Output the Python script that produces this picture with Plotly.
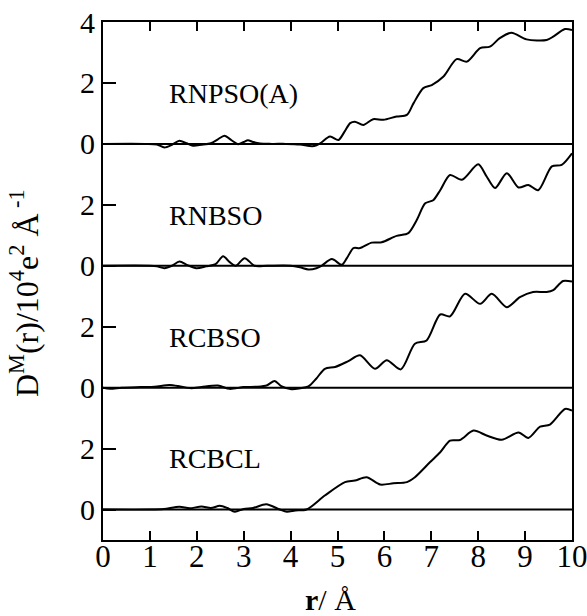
import plotly.graph_objects as go

# Panel data: r (Å) and D^M(r) values (units of 10^4 e^2 Å^-1), each panel relative to its own zero
labels = ["RNPSO(A)", "RNBSO", "RCBSO", "RCBCL"]

r_rnpso = [0, 0.9, 1.15, 1.31, 1.47, 1.63, 1.78, 1.92, 2.1, 2.3, 2.45, 2.59, 2.74, 2.88, 3.0, 3.09,
           3.2, 3.35, 3.6, 3.9, 4.2, 4.4, 4.5, 4.63, 4.84, 5.02, 5.15, 5.27, 5.37, 5.55, 5.76, 5.98,
           6.26, 6.48, 6.62, 6.83, 7.01, 7.26, 7.54, 7.76, 8.04, 8.25, 8.46, 8.71, 9.03, 9.46, 9.6,
           9.85, 10.0]
d_rnpso = [0, 0, -0.02, -0.12, -0.03, 0.1, 0.02, -0.06, -0.03, 0.02, 0.15, 0.27, 0.12, -0.01, 0.06,
           0.12, 0.06, 0.01, 0, 0, -0.02, -0.07, -0.07, 0.02, 0.24, 0.13, 0.4, 0.68, 0.73, 0.62, 0.81,
           0.79, 0.90, 0.95, 1.33, 1.83, 1.93, 2.21, 2.78, 2.70, 3.14, 3.19, 3.47, 3.65, 3.43, 3.41,
           3.52, 3.77, 3.74]

r_rnbso = [0, 1.0, 1.15, 1.31, 1.47, 1.63, 1.8, 1.99, 2.2, 2.4, 2.56, 2.7, 2.83, 3.02, 3.23, 3.5, 4.0,
           4.2, 4.38, 4.55, 4.66, 4.88, 5.09, 5.2, 5.34, 5.48, 5.73, 5.94, 6.26, 6.51, 6.69, 6.87, 7.04,
           7.19, 7.40, 7.65, 8.00, 8.18, 8.36, 8.61, 8.86, 9.07, 9.28, 9.57, 9.78, 10.0]
d_rnbso = [0, 0, -0.02, -0.08, 0, 0.14, 0.02, -0.08, -0.02, 0.05, 0.31, 0.12, 0, 0.25, 0, 0, 0,
           -0.05, -0.12, -0.08, 0, 0.22, 0.03, 0.25, 0.58, 0.58, 0.76, 0.77, 0.98, 1.07, 1.50, 2.05,
           2.15, 2.48, 2.98, 2.82, 3.33, 2.93, 2.55, 3.04, 2.57, 2.65, 2.48, 3.26, 3.31, 3.69]

r_rcbso = [0, 0.15, 0.4, 0.8, 1.1, 1.42, 1.65, 1.88, 2.1, 2.45, 2.7, 3.0, 3.3, 3.5, 3.66, 3.8, 4.02,
           4.2, 4.38, 4.55, 4.73, 4.95, 5.23, 5.48, 5.80, 6.05, 6.35, 6.65, 6.90, 7.19, 7.40, 7.72,
           8.04, 8.29, 8.61, 8.89, 9.17, 9.46, 9.6, 9.81, 10.0]
d_rcbso = [0, -0.04, 0, 0.02, 0.03, 0.09, 0.04, -0.02, 0.02, 0.07, -0.04, 0.02, 0.03, 0.08, 0.22,
           0.05, -0.05, -0.02, 0.04, 0.3, 0.62, 0.68, 0.87, 1.06, 0.62, 0.90, 0.60, 1.44, 1.55, 2.40,
           2.34, 3.08, 2.75, 3.08, 2.64, 2.97, 3.14, 3.14, 3.2, 3.5, 3.48]

r_rcbcl = [0, 1.0, 1.3, 1.63, 1.85, 2.1, 2.3, 2.49, 2.65, 2.81, 3.0, 3.2, 3.48, 3.77, 3.92, 4.1, 4.34,
           4.73, 5.16, 5.37, 5.62, 5.91, 6.19, 6.48, 6.65, 6.97, 7.19, 7.40, 7.61, 7.90, 8.18, 8.50,
           8.86, 9.07, 9.32, 9.53, 9.85, 10.0]
d_rcbcl = [0, 0, 0.02, 0.09, 0.04, 0.1, 0.05, 0.12, 0.05, -0.07, 0.02, 0.05, 0.17, 0.0, -0.07, -0.03,
           0, 0.46, 0.9, 0.95, 1.06, 0.82, 0.86, 0.9, 1.06, 1.55, 1.88, 2.26, 2.28, 2.59, 2.43, 2.29,
           2.53, 2.35, 2.72, 2.79, 3.30, 3.25]

series_r = [r_rnpso, r_rnbso, r_rcbso, r_rcbcl]
series_d = [d_rnpso, d_rnbso, d_rcbso, d_rcbcl]
offsets = [12, 8, 4, 0]          # vertical stacking offset for each panel
x_ticks = list(range(0, 11))
y_tick_vals = [0, 2, 4, 6, 8, 10, 12, 14, 16]
y_tick_text = ["0", "2", "0", "2", "0", "2", "0", "2", "4"]
label_r = 1.36
label_d = 1.66

FONT = "Liberation Serif, Times New Roman, serif"

fig = go.Figure()
for r, d, off in zip(series_r, series_d, offsets):
    fig.add_trace(go.Scatter(x=r, y=[v + off for v in d], mode="lines",
                             line=dict(color="black", width=2, shape="spline", smoothing=0.8),
                             showlegend=False, hoverinfo="skip"))
    fig.add_shape(type="line", xref="x", yref="y", x0=0, x1=10, y0=off, y1=off,
                  line=dict(color="black", width=2))

for lab, off in zip(labels, offsets):
    fig.add_annotation(x=label_r, y=off + label_d, text=lab, showarrow=False,
                       xanchor="left", yanchor="middle",
                       font=dict(family=FONT, size=28, color="black"))

fig.add_annotation(xref="paper", yref="paper", x=-0.168, y=0.477, textangle=-90,
                   text="D<sup>M</sup>(r)/10<sup>4</sup>e<sup>2</sup> Å<sup> -1</sup>",
                   showarrow=False, xanchor="center", yanchor="middle",
                   font=dict(family=FONT, size=32, color="black"))
fig.add_annotation(xref="paper", yref="paper", x=0.486, y=-0.114,
                   text="<b>r</b>/ Å", showarrow=False, xanchor="center", yanchor="middle",
                   font=dict(family=FONT, size=30, color="black"))

fig.update_layout(
    width=587, height=616,
    margin=dict(l=103, r=15, t=22, b=76, autoexpand=False),
    paper_bgcolor="white", plot_bgcolor="white",
    font=dict(family=FONT, size=30, color="black"),
)
fig.update_xaxes(range=[0, 10], tickmode="array", tickvals=x_ticks, automargin=False,
                 ticks="inside", ticklen=9, tickwidth=2, tickcolor="black",
                 showline=True, linewidth=2, linecolor="black", mirror="ticks",
                 ticklabeloverflow="allow", ticklabelstandoff=-12,
                 showgrid=False, zeroline=False, tickfont=dict(family=FONT, size=31))
fig.update_yaxes(range=[-1, 16], tickmode="array", tickvals=y_tick_vals, ticktext=y_tick_text,
                 automargin=False,
                 ticks="inside", ticklen=13, tickwidth=2, tickcolor="black",
                 showline=True, linewidth=2, linecolor="black", mirror=True,
                 showgrid=False, zeroline=False, tickfont=dict(family=FONT, size=30))

fig.write_html("out.html", config={"displayModeBar": False},
               post_script="document.body.style.margin='0';document.body.style.overflow='hidden';")
